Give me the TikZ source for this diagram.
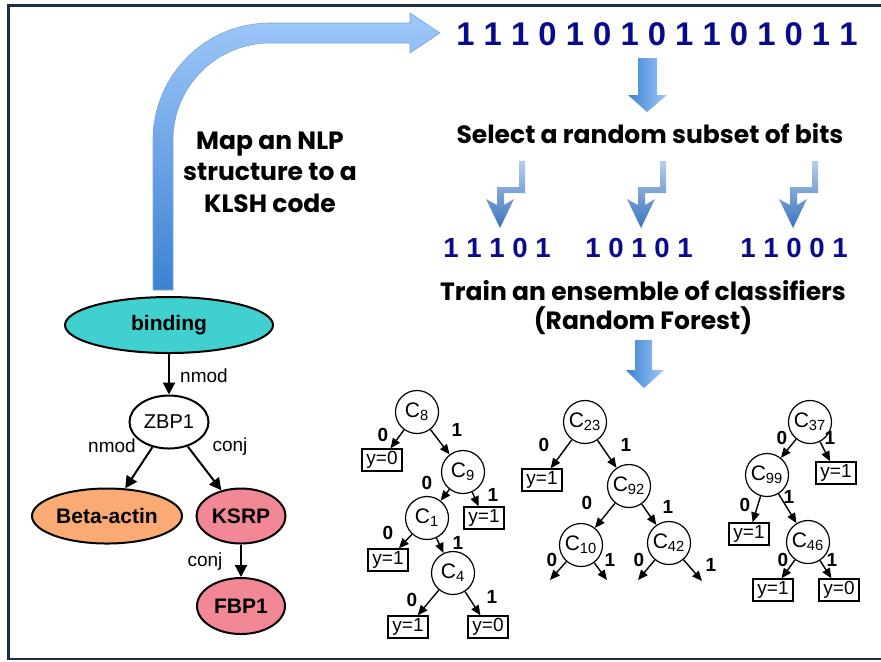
\documentclass[tikz,border=0pt]{standalone}
\usepackage{fontspec}
\setmainfont{Liberation Sans}
\newfontfamily\gothic{Poppins}
\usetikzlibrary{shapes.geometric,arrows.meta}
\definecolor{framenavy}{RGB}{30,45,75}
\definecolor{bitblue}{RGB}{10,10,140}
\definecolor{turq}{RGB}{64,208,208}
\definecolor{betaorange}{RGB}{250,170,115}
\definecolor{ksrppink}{RGB}{242,135,150}
\definecolor{arrowlight}{RGB}{160,200,250}
\definecolor{arrowdark}{RGB}{60,130,210}
\definecolor{elbowlight}{RGB}{180,205,235}
\definecolor{elbowdark}{RGB}{60,115,190}
\tikzset{
  gene/.style={ellipse,draw,line width=1pt,inner sep=0pt,font=\fontsize{10.5}{12}\selectfont\bfseries},
  dep/.style={-{Triangle[length=6pt,width=6pt]},line width=1pt},
  deplabel/.style={font=\fontsize{9.5}{11}\selectfont},
  cnode/.style={circle,draw,line width=0.6pt,minimum size=21.5pt,inner sep=0pt,font=\fontsize{10.5}{11}\selectfont},
  leaf/.style={rectangle,draw,line width=0.7pt,minimum width=20pt,minimum height=11pt,inner sep=1pt,font=\fontsize{9.5}{10}\selectfont},
  branch/.style={-{Triangle[length=5pt,width=4.2pt]},line width=0.7pt},
  bit/.style={font=\fontsize{9.5}{10}\selectfont\bfseries},
  gothictext/.style={font=\gothic\bfseries\fontsize{12.5}{15.75}\selectfont,align=center},
  bitstring/.style={text=bitblue,font=\fontsize{16.4}{18}\selectfont\bfseries},
  subcode/.style={text=bitblue,font=\fontsize{13.8}{16}\selectfont\bfseries}
}

\begin{document}
\begin{tikzpicture}[x=0.5pt,y=-0.5pt]
    \useasboundingbox (0,0) rectangle (881,661);
    \draw[framenavy,line width=1.25pt] (900,5.5) -- (8.5,5.5) -- (8.5,659) -- (900,659);

    \shade[top color=arrowlight,bottom color=arrowdark,draw=arrowdark!70,line width=0.3pt]
        (153,290) -- (153,140) .. controls (153,75.4) and (205.4,23) .. (270,23)
        -- (410,23) -- (410,13) -- (440,33) -- (410,53) -- (410,43) -- (270,43)
        .. controls (216.4,43) and (173,86.4) .. (173,140) -- (173,290) -- cycle;
    \node[gothictext] (maptext) at (270,172) {Map an NLP\\structure to a\\KLSH code};

    \node[bitstring] (code) at (657,34) {1 1 1 0 1 0 1 0 1 1 0 1 0 1 1};
    \shade[left color=arrowdark,right color=arrowlight]
        (638,58) -- (657,58) -- (657,95) -- (667,95) -- (647,112) -- (628,95) -- (638,95) -- cycle;
    \node[gothictext] (select) at (650,134) {Select a random subset of bits};
    \foreach \x in {522,663,815}
        \shade[top color=elbowlight,bottom color=elbowdark]
            (\x-3,161) -- (\x+3,161) -- (\x+3,193) -- (\x-18,193) -- (\x-18,205) -- (\x-8,199)
            -- (\x-22,228) -- (\x-36,199) -- (\x-25,205) -- (\x-25,187) -- (\x-3,187) -- cycle;
    \node[subcode] (sub1) at (497,248) {1 1 1 0 1};
    \node[subcode] (sub2) at (639,248) {1 0 1 0 1};
    \node[subcode] (sub3) at (794,248) {1 1 0 0 1};
    \node[gothictext,font=\gothic\bfseries\fontsize{12.5}{14.5}\selectfont] (train) at (643,308) {Train an ensemble of classifiers\\(Random Forest)};
    \shade[left color=arrowdark,right color=arrowlight]
        (635,340) -- (652,340) -- (652,370) -- (664,370) -- (644,388) -- (626,370) -- (635,370) -- cycle;

    \node[gene,fill=turq,minimum width=104pt,minimum height=28pt] (binding) at (169,325) {binding};
    \node[ellipse,draw,line width=1pt,minimum width=39.5pt,minimum height=26.5pt,inner sep=0pt,font=\fontsize{10}{11}\selectfont] (zbp1) at (169,422) {ZBP1};
    \node[gene,fill=betaorange,minimum width=75pt,minimum height=27.5pt] (beta) at (107,516) {Beta-actin};
    \node[gene,fill=ksrppink,minimum width=44.5pt,minimum height=27.5pt] (ksrp) at (241,516) {KSRP};
    \node[gene,fill=ksrppink,minimum width=44pt,minimum height=28pt] (fbp1) at (241,606) {FBP1};
    \draw[dep] (binding) -- (zbp1);
    \draw[dep] (zbp1) -- (beta);
    \draw[dep] (zbp1) -- (ksrp);
    \draw[dep] (ksrp) -- (fbp1);
    \node[deplabel] (lab1) at (204,376) {nmod};
    \node[deplabel] (lab2) at (112,446) {nmod};
    \node[deplabel] (lab3) at (230,447) {conj};
    \node[deplabel] (lab4) at (205,562) {conj};

    \node[cnode] (c8) at (417,412) {C\textsubscript{8}};
    \node[leaf] (t1a) at (382,460) {y=0};
    \node[cnode] (c9) at (463,472) {C\textsubscript{9}};
    \node[leaf] (t1b) at (484,518) {y=1};
    \node[cnode] (c1) at (427,518) {C\textsubscript{1}};
    \node[leaf] (t1c) at (388,560) {y=1};
    \node[cnode] (c4) at (453,573) {C\textsubscript{4}};
    \node[leaf] (t1d) at (408,627) {y=1};
    \node[leaf] (t1e) at (488,627) {y=0};
    \draw[branch] (c8) -- (t1a);
    \draw[branch] (c8) -- (c9);
    \draw[branch] (c9) -- (c1);
    \draw[branch] (c9) -- (t1b);
    \draw[branch] (c1) -- (t1c);
    \draw[branch] (c1) -- (c4);
    \draw[branch] (c4) -- (t1d);
    \draw[branch] (c4) -- (t1e);
    \node[bit] (b1) at (383,435) {0};
    \node[bit] (b2) at (457,430) {1};
    \node[bit] (b3) at (427,483) {0};
    \node[bit] (b4) at (493,495) {1};
    \node[bit] (b5) at (388,533) {0};
    \node[bit] (b6) at (458,543) {1};
    \node[bit] (b7) at (412,600) {0};
    \node[bit] (b8) at (492,597) {1};

    \node[cnode] (c23) at (585,422) {C\textsubscript{23}};
    \node[leaf] (t2a) at (542,480) {y=1};
    \node[cnode] (c92) at (629,486) {C\textsubscript{92}};
    \node[cnode] (c10) at (581,545) {C\textsubscript{10}};
    \node[cnode] (c42) at (669,543) {C\textsubscript{42}};
    \coordinate (e1) at (550,580);
    \coordinate (e2) at (607,580);
    \coordinate (e3) at (638,580);
    \coordinate (e4) at (702,581);
    \draw[branch] (c23) -- (t2a);
    \draw[branch] (c23) -- (c92);
    \draw[branch] (c92) -- (c10);
    \draw[branch] (c92) -- (c42);
    \draw[branch] (c10) -- (e1);
    \draw[branch] (c10) -- (e2);
    \draw[branch] (c42) -- (e3);
    \draw[branch] (c42) -- (e4);
    \node[bit] (b9) at (544,445) {0};
    \node[bit] (b10) at (626,445) {1};
    \node[bit] (b11) at (587,503) {0};
    \node[bit] (b12) at (668,507) {1};
    \node[bit] (b13) at (552,560) {0};
    \node[bit] (b14) at (610,560) {1};
    \node[bit] (b15) at (639,560) {0};
    \node[bit] (b16) at (711,565) {1};

    \node[cnode] (c37) at (810,422) {C\textsubscript{37}};
    \node[leaf] (t3a) at (836,473) {y=1};
    \node[cnode] (c99) at (767,475) {C\textsubscript{99}};
    \node[leaf] (t3b) at (749,534) {y=1};
    \node[cnode] (c46) at (808,542) {C\textsubscript{46}};
    \node[leaf] (t3c) at (773,590) {y=1};
    \node[leaf] (t3d) at (839,590) {y=0};
    \draw[branch] (c37) -- (c99);
    \draw[branch] (c37) -- (t3a);
    \draw[branch] (c99) -- (t3b);
    \draw[branch] (c99) -- (c46);
    \draw[branch] (c46) -- (t3c);
    \draw[branch] (c46) -- (t3d);
    \node[bit] (b17) at (782,438) {0};
    \node[bit] (b18) at (830,438) {1};
    \node[bit] (b19) at (745,505) {0};
    \node[bit] (b20) at (789,497) {1};
    \node[bit] (b21) at (783,560) {0};
    \node[bit] (b22) at (832,560) {1};
\end{tikzpicture}
\end{document}
